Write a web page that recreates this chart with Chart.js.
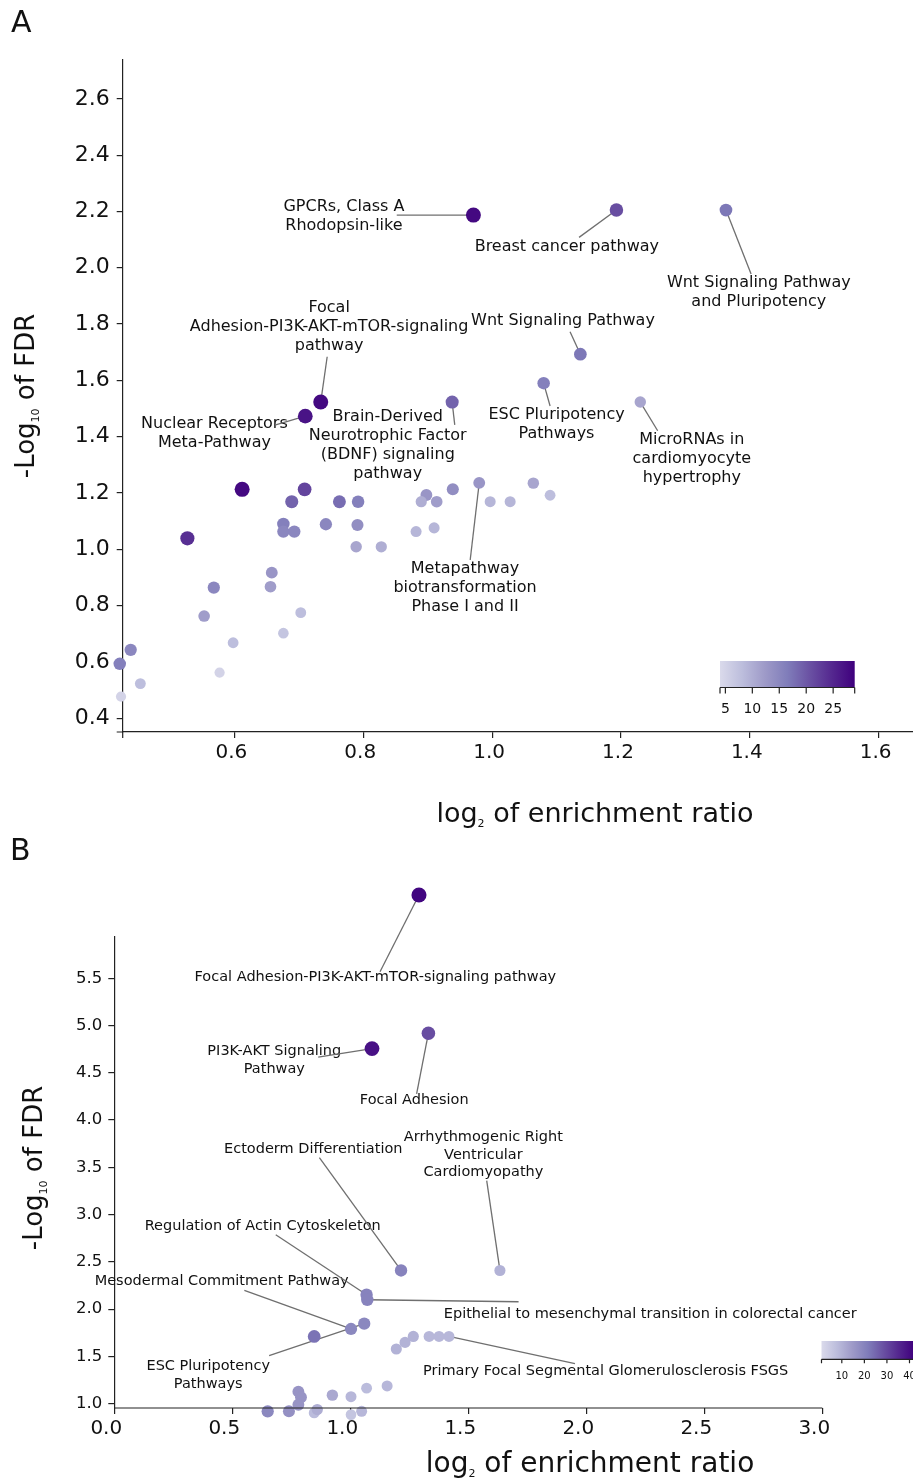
<!DOCTYPE html>
<html lang="en">
<head>
<meta charset="UTF-8">
<title>Pathway enrichment</title>
<script src="https://cdn.jsdelivr.net/npm/chart.js@4.4.0/dist/chart.umd.min.js"></script>
<style>
    * { margin: 0; padding: 0; box-sizing: border-box; }
    body {
        background: #fff;
        width: 913px;
        height: 1481px;
        overflow: hidden;
        position: relative;
        font-family: 'DejaVu Sans', sans-serif;
    }
    .panel { position: absolute; left: 0; width: 1070px; }
    #panelA { top: 0; height: 840px; }
    #panelB { top: 828px; height: 653px; }
    .tag { position: absolute; font-size: 30px; line-height: 1; color: #111; }
</style>
</head>
<body>
<div class="panel" id="panelA"><canvas id="chartA" width="1070" height="840"></canvas></div>
<div class="panel" id="panelB"><canvas id="chartB" width="1070" height="653"></canvas></div>
<div class="tag" style="left:11px; top:7px">A</div>
<div class="tag" style="left:10px; top:835px">B</div>

<script>
const FONT = "'DejaVu Sans', sans-serif";

// ---------- panel A ----------
// first 10 points are the labelled pathways
const aRatio = [0.971, 1.193, 1.363, 1.137, 0.734, 0.710, 0.938, 1.080, 1.230, 0.980,
    0.612, 0.709, 0.689, 0.763, 0.792, 0.527, 0.676, 0.676, 0.693, 0.742, 0.791, 0.789, 0.828,
    0.898, 0.890, 0.914, 0.939, 0.997, 1.028, 1.064, 1.090, 0.882, 0.910,
    0.658, 0.656, 0.568, 0.553, 0.703, 0.676, 0.598, 0.439, 0.422, 0.454, 0.424, 0.577];
const aFdr = [2.187, 2.205, 2.205, 1.693, 1.523, 1.473, 1.523, 1.590, 1.523, 1.236,
    1.213, 1.213, 1.169, 1.169, 1.169, 1.039, 1.090, 1.063, 1.063, 1.089, 1.086, 1.009, 1.009,
    1.193, 1.169, 1.169, 1.213, 1.169, 1.169, 1.235, 1.192, 1.063, 1.076,
    0.917, 0.867, 0.864, 0.763, 0.775, 0.702, 0.668, 0.643, 0.593, 0.523, 0.477, 0.562];
const aGenes = [28, 21, 17, 17, 28, 27, 19, 16, 11, 13,
    28, 22, 19, 18, 16, 24, 16, 15, 15, 15, 14, 11, 10,
    13, 10, 12, 14, 9, 9, 11, 8, 9, 9,
    13, 12, 15, 12, 8, 7, 8, 15, 16, 8, 5, 5];
const aLabelText = [
    ['GPCRs, Class A', 'Rhodopsin-like'],
    ['Breast cancer pathway'],
    ['Wnt Signaling Pathway', 'and Pluripotency'],
    ['Wnt Signaling Pathway'],
    ['Focal', 'Adhesion-PI3K-AKT-mTOR-signaling', 'pathway'],
    ['Nuclear Receptors', 'Meta-Pathway'],
    ['Brain-Derived', 'Neurotrophic Factor', '(BDNF) signaling', 'pathway'],
    ['ESC Pluripotency', 'Pathways'],
    ['MicroRNAs in', 'cardiomyocyte', 'hypertrophy'],
    ['Metapathway', 'biotransformation', 'Phase I and II']
];
const aLabelAt = [[0.770, 2.182], [1.116, 2.074], [1.414, 1.914], [1.110, 1.811], [0.747, 1.790],
    [0.569, 1.411], [0.838, 1.371], [1.100, 1.443], [1.310, 1.321], [0.958, 0.863]];
const aLeaderFrom = [[0.852, 2.187], [1.135, 2.108], [1.402, 1.978], [1.121, 1.773], [0.744, 1.684],
    [0.664, 1.442], [0.942, 1.442], [1.090, 1.509], [1.257, 1.421], [0.966, 0.962]];
const aColorTicks = [5, 10, 15, 20, 25];

// ---------- panel B ----------
const bRatio = [1.291, 1.092, 1.331, 1.215, 1.634, 1.069, 1.072, 1.003, 1.059, 1.418,
    0.847, 1.195, 1.232, 1.267, 1.334, 1.376, 1.069, 1.156, 0.924, 1.003,
    0.780, 0.791, 0.780, 0.650, 0.740, 0.847, 0.860, 1.003, 1.048];
const bFdr = [6.381, 4.756, 4.919, 2.409, 2.409, 2.152, 2.099, 1.790, 1.846, 1.711,
    1.711, 1.578, 1.648, 1.711, 1.711, 1.711, 1.164, 1.187, 1.090, 1.074,
    1.127, 1.067, 0.989, 0.919, 0.919, 0.902, 0.937, 0.884, 0.919];
const bGenes = [41, 39, 29, 20, 10, 20, 20, 19, 19, 9,
    23, 10, 10, 10, 9, 9, 8, 9, 12, 9,
    16, 16, 16, 19, 17, 8, 11, 6, 9];
const bLabelText = [
    ['Focal Adhesion-PI3K-AKT-mTOR-signaling pathway'],
    ['PI3K-AKT Signaling', 'Pathway'],
    ['Focal Adhesion'],
    ['Ectoderm Differentiation'],
    ['Arrhythmogenic Right', 'Ventricular', 'Cardiomyopathy'],
    ['Regulation of Actin Cytoskeleton'],
    ['Epithelial to mesenchymal transition in colorectal cancer'],
    ['Mesodermal Commitment Pathway'],
    ['ESC Pluripotency', 'Pathways'],
    ['Primary Focal Segmental Glomerulosclerosis FSGS']
];
const bLabelAt = [[1.106, 5.506], [0.678, 4.631], [1.271, 4.206], [0.843, 3.696], [1.564, 3.631],
    [0.629, 2.874], [2.271, 1.945], [0.455, 2.293], [0.398, 1.299], [2.082, 1.341]];
const bLeaderFrom = [[1.126, 5.570], [0.864, 4.665], [1.281, 4.277], [0.869, 3.604], [1.578, 3.360],
    [0.684, 2.786], [1.713, 2.078], [0.551, 2.198], [0.656, 1.507], [1.952, 1.423]];
const bColorTicks = [10, 20, 30, 40];

// Purples-like colormap
const cmapStops = ['#dadaeb', '#bcbddc', '#9e9ac8', '#807dba', '#6a51a3', '#54278f', '#3f007d'];
function hexRgb(h) {
    return [parseInt(h.slice(1, 3), 16), parseInt(h.slice(3, 5), 16), parseInt(h.slice(5, 7), 16)];
}
function cmap(t) {
    t = Math.max(0, Math.min(1, t));
    const p = t * (cmapStops.length - 1);
    const i = Math.min(Math.floor(p), cmapStops.length - 2);
    const f = p - i;
    const a = hexRgb(cmapStops[i]), b = hexRgb(cmapStops[i + 1]);
    const c = a.map((v, k) => Math.round(v + (b[k] - v) * f));
    return 'rgb(' + c.join(',') + ')';
}

// text with a small subscript part, centred on (x, y) baseline
function drawRich(ctx, item) {
    ctx.save();
    ctx.translate(item.x, item.y);
    if (item.rotate) ctx.rotate(item.rotate);
    ctx.fillStyle = '#111';
    ctx.textBaseline = 'alphabetic';
    ctx.textAlign = 'left';
    let w = 0;
    item.parts.forEach(p => { ctx.font = p[1] + 'px ' + FONT; w += ctx.measureText(p[0]).width; });
    let cx = -w / 2;
    item.parts.forEach(p => {
        ctx.font = p[1] + 'px ' + FONT;
        ctx.fillText(p[0], cx, p[2]);
        cx += ctx.measureText(p[0]).width;
    });
    ctx.restore();
}

const axisTitles = {
    id: 'axisTitles',
    afterDraw(chart, args, opts) {
        opts.items.forEach(it => drawRich(chart.ctx, it));
    }
};

// spines drawn by hand where they do not simply follow the chart area
const spines = {
    id: 'spines',
    afterDraw(chart, args, opts) {
        const ctx = chart.ctx, a = chart.chartArea, xs = chart.scales.x;
        ctx.save();
        ctx.strokeStyle = '#222';
        ctx.lineWidth = 1.2;
        ctx.beginPath();
        if (opts.xFrom !== undefined) {
            ctx.moveTo(xs.getPixelForValue(opts.xFrom), a.bottom);
            ctx.lineTo(xs.getPixelForValue(opts.xTo), a.bottom);
        }
        if (opts.overhang) {
            ctx.moveTo(a.left - opts.overhang, a.bottom);
            ctx.lineTo(a.left, a.bottom);
            ctx.moveTo(a.left, a.bottom);
            ctx.lineTo(a.left, a.bottom + opts.overhang);
        }
        ctx.stroke();
        ctx.restore();
    }
};

// let points that sit outside the axes box still be drawn
const freePoints = {
    id: 'freePoints',
    beforeDatasetsDraw(chart) {
        chart._savedArea = chart.chartArea;
        chart.chartArea = { left: 0, top: 0, right: chart.width, bottom: chart.height,
            width: chart.width, height: chart.height };
    },
    afterDatasetsDraw(chart) {
        chart.chartArea = chart._savedArea;
    }
};

const pathLabels = {
    id: 'pathLabels',
    beforeDatasetsDraw(chart, args, opts) {
        const ctx = chart.ctx, xs = chart.scales.x, ys = chart.scales.y;
        ctx.save();
        ctx.font = opts.size + 'px ' + FONT;
        ctx.fillStyle = '#111';
        ctx.textAlign = 'center';
        ctx.textBaseline = 'middle';
        opts.text.forEach((lines, i) => {
            const cx = xs.getPixelForValue(opts.at[i][0]);
            const cy = ys.getPixelForValue(opts.at[i][1]);
            lines.forEach((ln, k) => {
                ctx.fillText(ln, cx, cy + (k - (lines.length - 1) / 2) * opts.lineHeight);
            });
        });
        ctx.strokeStyle = '#6f6f6f';
        ctx.lineWidth = 1.3;
        opts.text.forEach((lines, i) => {
            ctx.beginPath();
            ctx.moveTo(xs.getPixelForValue(opts.from[i][0]), ys.getPixelForValue(opts.from[i][1]));
            ctx.lineTo(xs.getPixelForValue(opts.xv[i]), ys.getPixelForValue(opts.yv[i]));
            ctx.stroke();
        });
        ctx.restore();
    }
};

const colorBar = {
    id: 'colorBar',
    afterDraw(chart, args, o) {
        const ctx = chart.ctx;
        ctx.save();
        const g = ctx.createLinearGradient(o.x0, 0, o.x1, 0);
        cmapStops.forEach((c, i) => g.addColorStop(i / (cmapStops.length - 1), c));
        ctx.fillStyle = g;
        ctx.fillRect(o.x0, o.y0, o.x1 - o.x0, o.y1 - o.y0);
        const px = v => o.x0 + (v - o.vmin) / (o.vmax - o.vmin) * (o.x1 - o.x0);
        ctx.strokeStyle = '#222';
        ctx.lineWidth = 1.2;
        ctx.beginPath();
        ctx.moveTo(o.x0, o.y1);
        ctx.lineTo(o.x1, o.y1);
        [o.x0, o.x1].concat(o.ticks.map(px)).forEach(x => {
            ctx.moveTo(x, o.y1);
            ctx.lineTo(x, o.y1 + o.tick);
        });
        ctx.stroke();
        ctx.fillStyle = '#111';
        ctx.font = o.size + 'px ' + FONT;
        ctx.textAlign = 'center';
        ctx.textBaseline = 'alphabetic';
        o.ticks.forEach(v => ctx.fillText(String(v), px(v), o.labelY));
        ctx.restore();
    }
};

function axis(min, max, step, size, pad, shift, border, fit) {
    return {
        type: 'linear',
        min: min,
        max: max,
        afterFit: fit,
        border: { display: border, color: '#222', width: 1.2 },
        grid: { drawOnChartArea: false, drawTicks: true, tickLength: 6, color: '#222', lineWidth: 1.2 },
        ticks: {
            stepSize: step,
            includeBounds: false,
            autoSkip: false,
            maxRotation: 0,
            padding: pad,
            labelOffset: shift,
            color: '#111',
            font: { family: FONT, size: size },
            callback: v => v.toFixed(1)
        }
    };
}

function makeChart(id, cfg) {
    const xs = cfg.ratio, ys = cfg.fdr, gs = cfg.genes;
    const radius = gs.map(g => 5 + 2.6 * (g - cfg.lo) / (cfg.hi - cfg.lo));
    return new Chart(document.getElementById(id), {
        type: 'scatter',
        data: {
            datasets: [{
                data: xs.map((x, i) => ({ x: x, y: ys[i] })),
                clip: false,
                pointRadius: radius,
                pointHoverRadius: radius,
                pointBackgroundColor: gs.map(g => cmap((g - cfg.lo) / (cfg.hi - cfg.lo))),
                pointBorderWidth: 0
            }]
        },
        options: {
            responsive: false,
            animation: false,
            devicePixelRatio: 1,
            layout: { padding: cfg.padding },
            plugins: {
                legend: { display: false },
                tooltip: { enabled: false },
                pathLabels: {
                    text: cfg.labelText, at: cfg.labelAt, from: cfg.leaderFrom,
                    xv: xs, yv: ys, size: cfg.labelSize, lineHeight: cfg.lineHeight
                },
                axisTitles: { items: cfg.titles },
                spines: cfg.spines,
                colorBar: cfg.colorBar
            },
            scales: { x: cfg.x, y: cfg.y }
        },
        plugins: [pathLabels, freePoints, axisTitles, spines, colorBar]
    });
}

makeChart('chartA', {
    ratio: aRatio, fdr: aFdr, genes: aGenes, lo: 4, hi: 29,
    labelText: aLabelText, labelAt: aLabelAt, leaderFrom: aLeaderFrom,
    labelSize: 16, lineHeight: 19,
    padding: { top: 60, right: 2.7, bottom: 0, left: 0 },
    x: axis(0.4266, 1.8854, 0.2, 20, 3, -3, true, s => { s.height = 108; }),
    y: axis(0.351, 2.738, 0.2, 22, 7, 0, true, s => { s.width = 122.7; }),
    spines: { overhang: 6 },
    titles: [
        { x: 595, y: 822, parts: [['log', 27, 0], ['2', 11, 5], [' of enrichment ratio', 27, 0]] },
        { x: 34, y: 396, rotate: -Math.PI / 2, parts: [['-Log', 26, 0], ['10', 11, 5], [' of FDR', 26, 0]] }
    ],
    colorBar: { x0: 720, x1: 854.7, y0: 661, y1: 687.5, vmin: 4, vmax: 29, ticks: aColorTicks,
        tick: 6, size: 14, labelY: 712.5 }
});

makeChart('chartB', {
    ratio: bRatio, fdr: bFdr, genes: bGenes, lo: 1, hi: 42,
    labelText: bLabelText, labelAt: bLabelAt, leaderFrom: bLeaderFrom,
    labelSize: 14.5, lineHeight: 17.6,
    padding: { top: 108.7, right: 35.3, bottom: 0, left: 0 },
    x: axis(0, 3.9, 0.5, 20, 3, -8, false, s => { s.height = 73; }),
    y: axis(0.954, 5.94, 0.5, 16.5, 6, 0, true, s => { s.width = 114.3; }),
    spines: { xFrom: 0, xTo: 3 },
    titles: [
        { x: 590, y: 644, parts: [['log', 28, 0], ['2', 11, 5], [' of enrichment ratio', 28, 0]] },
        { x: 42, y: 340, rotate: -Math.PI / 2, parts: [['-Log', 26, 0], ['10', 11, 5], [' of FDR', 26, 0]] }
    ],
    colorBar: { x0: 821.5, x1: 914, y0: 513, y1: 531.3, vmin: 1, vmax: 42, ticks: bColorTicks,
        tick: 4, size: 10, labelY: 550.5 }
});
</script>
</body>
</html>
